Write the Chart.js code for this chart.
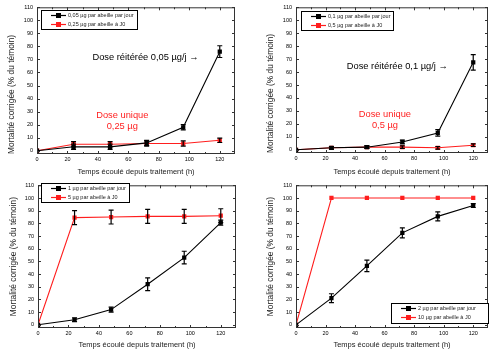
<!DOCTYPE html>
<html>
<head>
<meta charset="utf-8">
<script src="https://cdn.jsdelivr.net/npm/chart.js@4/dist/chart.umd.min.js"></script>
<style>
  html, body { margin: 0; padding: 0; background: #fff; }
  #wrap { position: relative; width: 492px; height: 356px; }
  .p { position: absolute; width: 246px; height: 178px; }
</style>
</head>
<body>
<div id="wrap">
  <div class="p" style="left:0;top:0"><canvas id="c1" width="246" height="178"></canvas></div>
  <div class="p" style="left:246px;top:0"><canvas id="c2" width="246" height="178"></canvas></div>
  <div class="p" style="left:0;top:178px"><canvas id="c3" width="246" height="178"></canvas></div>
  <div class="p" style="left:246px;top:178px"><canvas id="c4" width="246" height="178"></canvas></div>
</div>
<script>
// hours after treatment
const hours = [0, 24, 48, 72, 96, 120];
const xTicks = [0, 10, 20, 30, 40, 50, 60, 70, 80, 90, 100, 110, 120];
const yTicks = [0, 10, 20, 30, 40, 50, 60, 70, 80, 90, 100, 110];

// panel 1
const p1Daily = [0, 3, 3, 6, 18, 76];
const p1DailyErr = [0, 2, 2, 2, 2, 4.5];
const p1Single = [0, 5, 5, 5.5, 5.5, 8];
const p1SingleErr = [0, 2, 2, 2, 2, 1.7];
// panel 2
const p2Daily = [0, 1.5, 2, 6, 13, 67.5];
const p2DailyErr = [0, 1, 1, 1.5, 2.5, 6];
const p2Single = [0, 1.5, 2, 2, 1.5, 3.5];
const p2SingleErr = [0, 1, 1, 1, 1, 1];
// panel 3
const p3Daily = [0, 4, 12, 32, 53, 80.5];
const p3DailyErr = [0, 1.5, 2, 5, 5, 2];
const p3Single = [0, 84.5, 85, 85.5, 85.5, 86];
const p3SingleErr = [0, 5.5, 5.5, 5.5, 5.5, 5.5];
// panel 4
const p4Daily = [0, 21, 46.5, 72.5, 85.5, 94];
const p4DailyErr = [0, 3.5, 4.5, 4, 3.5, 1.5];
const p4Single = [0, 100, 100, 100, 100, 100];
const p4SingleErr = [0, 0, 0, 0, 0, 0];

const FONT = '"Liberation Sans", Arial, sans-serif';
const RED = '#ff1e1e';
Chart.defaults.font.family = FONT;
Chart.defaults.color = '#000';

// error bars, drawn with the chart scales
const errorBars = {
  id: 'errorBars',
  afterDatasetsDraw(chart) {
    const { ctx, scales: { x, y } } = chart;
    ctx.save();
    ctx.strokeStyle = '#000';
    ctx.lineWidth = 1.2;
    chart.data.datasets.forEach(ds => {
      ds.data.forEach((pt, i) => {
        const e = ds.err[i];
        if (!e) return;
        const px = x.getPixelForValue(pt.x);
        const y1 = y.getPixelForValue(pt.y + e);
        const y2 = y.getPixelForValue(pt.y - e);
        ctx.beginPath();
        ctx.moveTo(px, y1); ctx.lineTo(px, y2);
        ctx.moveTo(px - 2.5, y1); ctx.lineTo(px + 2.5, y1);
        ctx.moveTo(px - 2.5, y2); ctx.lineTo(px + 2.5, y2);
        ctx.stroke();
      });
    });
    ctx.restore();
  }
};

// box around the plot with inward ticks on all sides
const frame = {
  id: 'frame',
  afterDatasetsDraw(chart) {
    const { ctx, chartArea: a, scales: { x, y } } = chart;
    ctx.save();
    ctx.strokeStyle = '#333';
    ctx.lineWidth = 1;
    ctx.strokeRect(a.left + 0.5, a.top + 0.5, a.right - a.left - 1, a.bottom - a.top - 1);
    ctx.beginPath();
    x.ticks.forEach(t => {
      const px = Math.round(x.getPixelForValue(t.value)) + 0.5;
      const len = t.value % 20 === 0 ? 3 : 2;
      ctx.moveTo(px, a.bottom); ctx.lineTo(px, a.bottom - len);
      ctx.moveTo(px, a.top); ctx.lineTo(px, a.top + len);
    });
    y.ticks.forEach(t => {
      const py = Math.round(y.getPixelForValue(t.value)) + 0.5;
      ctx.moveTo(a.left, py); ctx.lineTo(a.left + 3, py);
      ctx.moveTo(a.right, py); ctx.lineTo(a.right - 3, py);
    });
    ctx.stroke();
    ctx.restore();
  }
};

// boxed legend inside the plot
const boxLegend = {
  id: 'boxLegend',
  afterDraw(chart, args, opts) {
    const { ctx } = chart;
    const b = opts.box;
    ctx.save();
    ctx.fillStyle = '#fff';
    ctx.fillRect(b.x, b.y, b.w, b.h);
    ctx.strokeStyle = '#000';
    ctx.lineWidth = 1;
    ctx.strokeRect(b.x + 0.5, b.y + 0.5, b.w, b.h);
    ctx.font = '5.5px ' + FONT;
    ctx.textBaseline = 'middle';
    chart.data.datasets.forEach((ds, i) => {
      const ry = b.y + 5.5 + i * 9;
      ctx.strokeStyle = ds.borderColor;
      ctx.lineWidth = 1.2;
      ctx.beginPath();
      ctx.moveTo(b.x + 10, ry); ctx.lineTo(b.x + 25, ry);
      ctx.stroke();
      ctx.fillStyle = ds.borderColor;
      ctx.fillRect(b.x + 15, ry - 2.5, 5, 5);
      ctx.fillStyle = '#222';
      ctx.fillText(ds.label, b.x + 27, ry);
    });
    ctx.restore();
  }
};

// free text notes placed in data units
const notes = {
  id: 'notes',
  afterDraw(chart, args, opts) {
    const { ctx, scales: { x, y } } = chart;
    ctx.save();
    ctx.textBaseline = 'middle';
    (opts.items || []).forEach(n => {
      ctx.font = '9.3px ' + FONT;
      ctx.fillStyle = n.color;
      ctx.textAlign = n.align;
      ctx.fillText(n.text, x.getPixelForValue(n.x), y.getPixelForValue(n.y));
    });
    ctx.restore();
  }
};

const panel = (id, series, area, titles, legendBox, noteItems) => {
  new Chart(document.getElementById(id), {
    type: 'line',
    data: {
      datasets: series.map(s => ({
        label: s.label,
        data: hours.map((h, i) => ({ x: h, y: s.values[i] })),
        err: s.err,
        borderColor: s.color,
        backgroundColor: s.color,
        pointBackgroundColor: s.color,
        pointBorderColor: s.color,
        borderWidth: 1.1,
        pointStyle: 'rect',
        pointRadius: 3,
        pointBorderWidth: 0,
        tension: 0
      }))
    },
    options: {
      responsive: false,
      animation: false,
      layout: { padding: { left: 0, top: area.top, right: 246 - area.right, bottom: 0 } },
      plugins: {
        legend: { display: false },
        tooltip: { enabled: false },
        boxLegend: { box: legendBox },
        notes: { items: noteItems }
      },
      scales: {
        x: {
          type: 'linear', min: 0, max: 130,
          afterBuildTicks: s => { s.ticks = xTicks.map(v => ({ value: v })); },
          afterFit: s => { s.height = 178 - area.bottom; },
          ticks: {
            autoSkip: false, maxRotation: 0, padding: 2,
            font: { size: 5.5 },
            callback: v => (v % 20 === 0 ? v : '')
          },
          grid: { display: false, drawTicks: false },
          border: { display: false },
          title: {
            display: true, text: 'Temps écoulé depuis traitement (h)',
            font: { size: 7.5 }, color: '#222',
            padding: { top: 0, bottom: titles.x }
          }
        },
        y: {
          type: 'linear', min: -2.5, max: 110,
          afterBuildTicks: s => { s.ticks = yTicks.map(v => ({ value: v })); },
          afterFit: s => { s.width = area.left; },
          ticks: { padding: 4, font: { size: 5.5 } },
          grid: { display: false, drawTicks: false },
          border: { display: false },
          title: {
            display: true, text: 'Mortalité corrigée (% du témoin)',
            font: { size: 8.4 }, color: '#222', align: titles.align,
            padding: { top: titles.y, bottom: 0 }
          }
        }
      }
    },
    plugins: [errorBars, frame, boxLegend, notes]
  });
};

window.onload = () => {
  panel('c1', [
    { label: '0,05 µg par abeille par jour', values: p1Daily, err: p1DailyErr, color: '#000' },
    { label: '0,25 µg par abeille à J0', values: p1Single, err: p1SingleErr, color: RED }
  ], { left: 37, top: 6, right: 235, bottom: 154 }, { x: 1.5, y: 7, align: 'start' },
  { x: 41, y: 10, w: 96, h: 19 },
  [
    { text: 'Dose réitérée 0,05 µg/j →', x: 36.4, y: 71.5, color: '#000', align: 'left' },
    { text: 'Dose unique', x: 56, y: 27.3, color: RED, align: 'center' },
    { text: '0,25 µg', x: 56, y: 18.4, color: RED, align: 'center' }
  ]);

  panel('c2', [
    { label: '0,1 µg par abeille par jour', values: p2Daily, err: p2DailyErr, color: '#000' },
    { label: '0,5 µg par abeille à J0', values: p2Single, err: p2SingleErr, color: RED }
  ], { left: 50, top: 7, right: 245, bottom: 153 }, { x: 1.8, y: 20, align: 'start' },
  { x: 55, y: 11, w: 92, h: 19 },
  [
    { text: 'Dose réitérée 0,1 µg/j →', x: 34.4, y: 64.4, color: '#000', align: 'left' },
    { text: 'Dose unique', x: 60.2, y: 27.4, color: RED, align: 'center' },
    { text: '0,5 µg', x: 60.2, y: 18.9, color: RED, align: 'center' }
  ]);

  panel('c3', [
    { label: '1 µg par abeille par jour', values: p3Daily, err: p3DailyErr, color: '#000' },
    { label: '5 µg par abeille à J0', values: p3Single, err: p3SingleErr, color: RED }
  ], { left: 38, top: 3, right: 236, bottom: 150 }, { x: 6.8, y: 8.3, align: 'center' },
  { x: 41, y: 5, w: 88, h: 19 }, []);

  panel('c4', [
    { label: '2 µg par abeille par jour', values: p4Daily, err: p4DailyErr, color: '#000' },
    { label: '10 µg par abeille à J0', values: p4Single, err: p4SingleErr, color: RED }
  ], { left: 50, top: 3, right: 245, bottom: 150 }, { x: 6.8, y: 20, align: 'center' },
  { x: 145, y: 125, w: 97, h: 20 }, []);
};
</script>
</body>
</html>
